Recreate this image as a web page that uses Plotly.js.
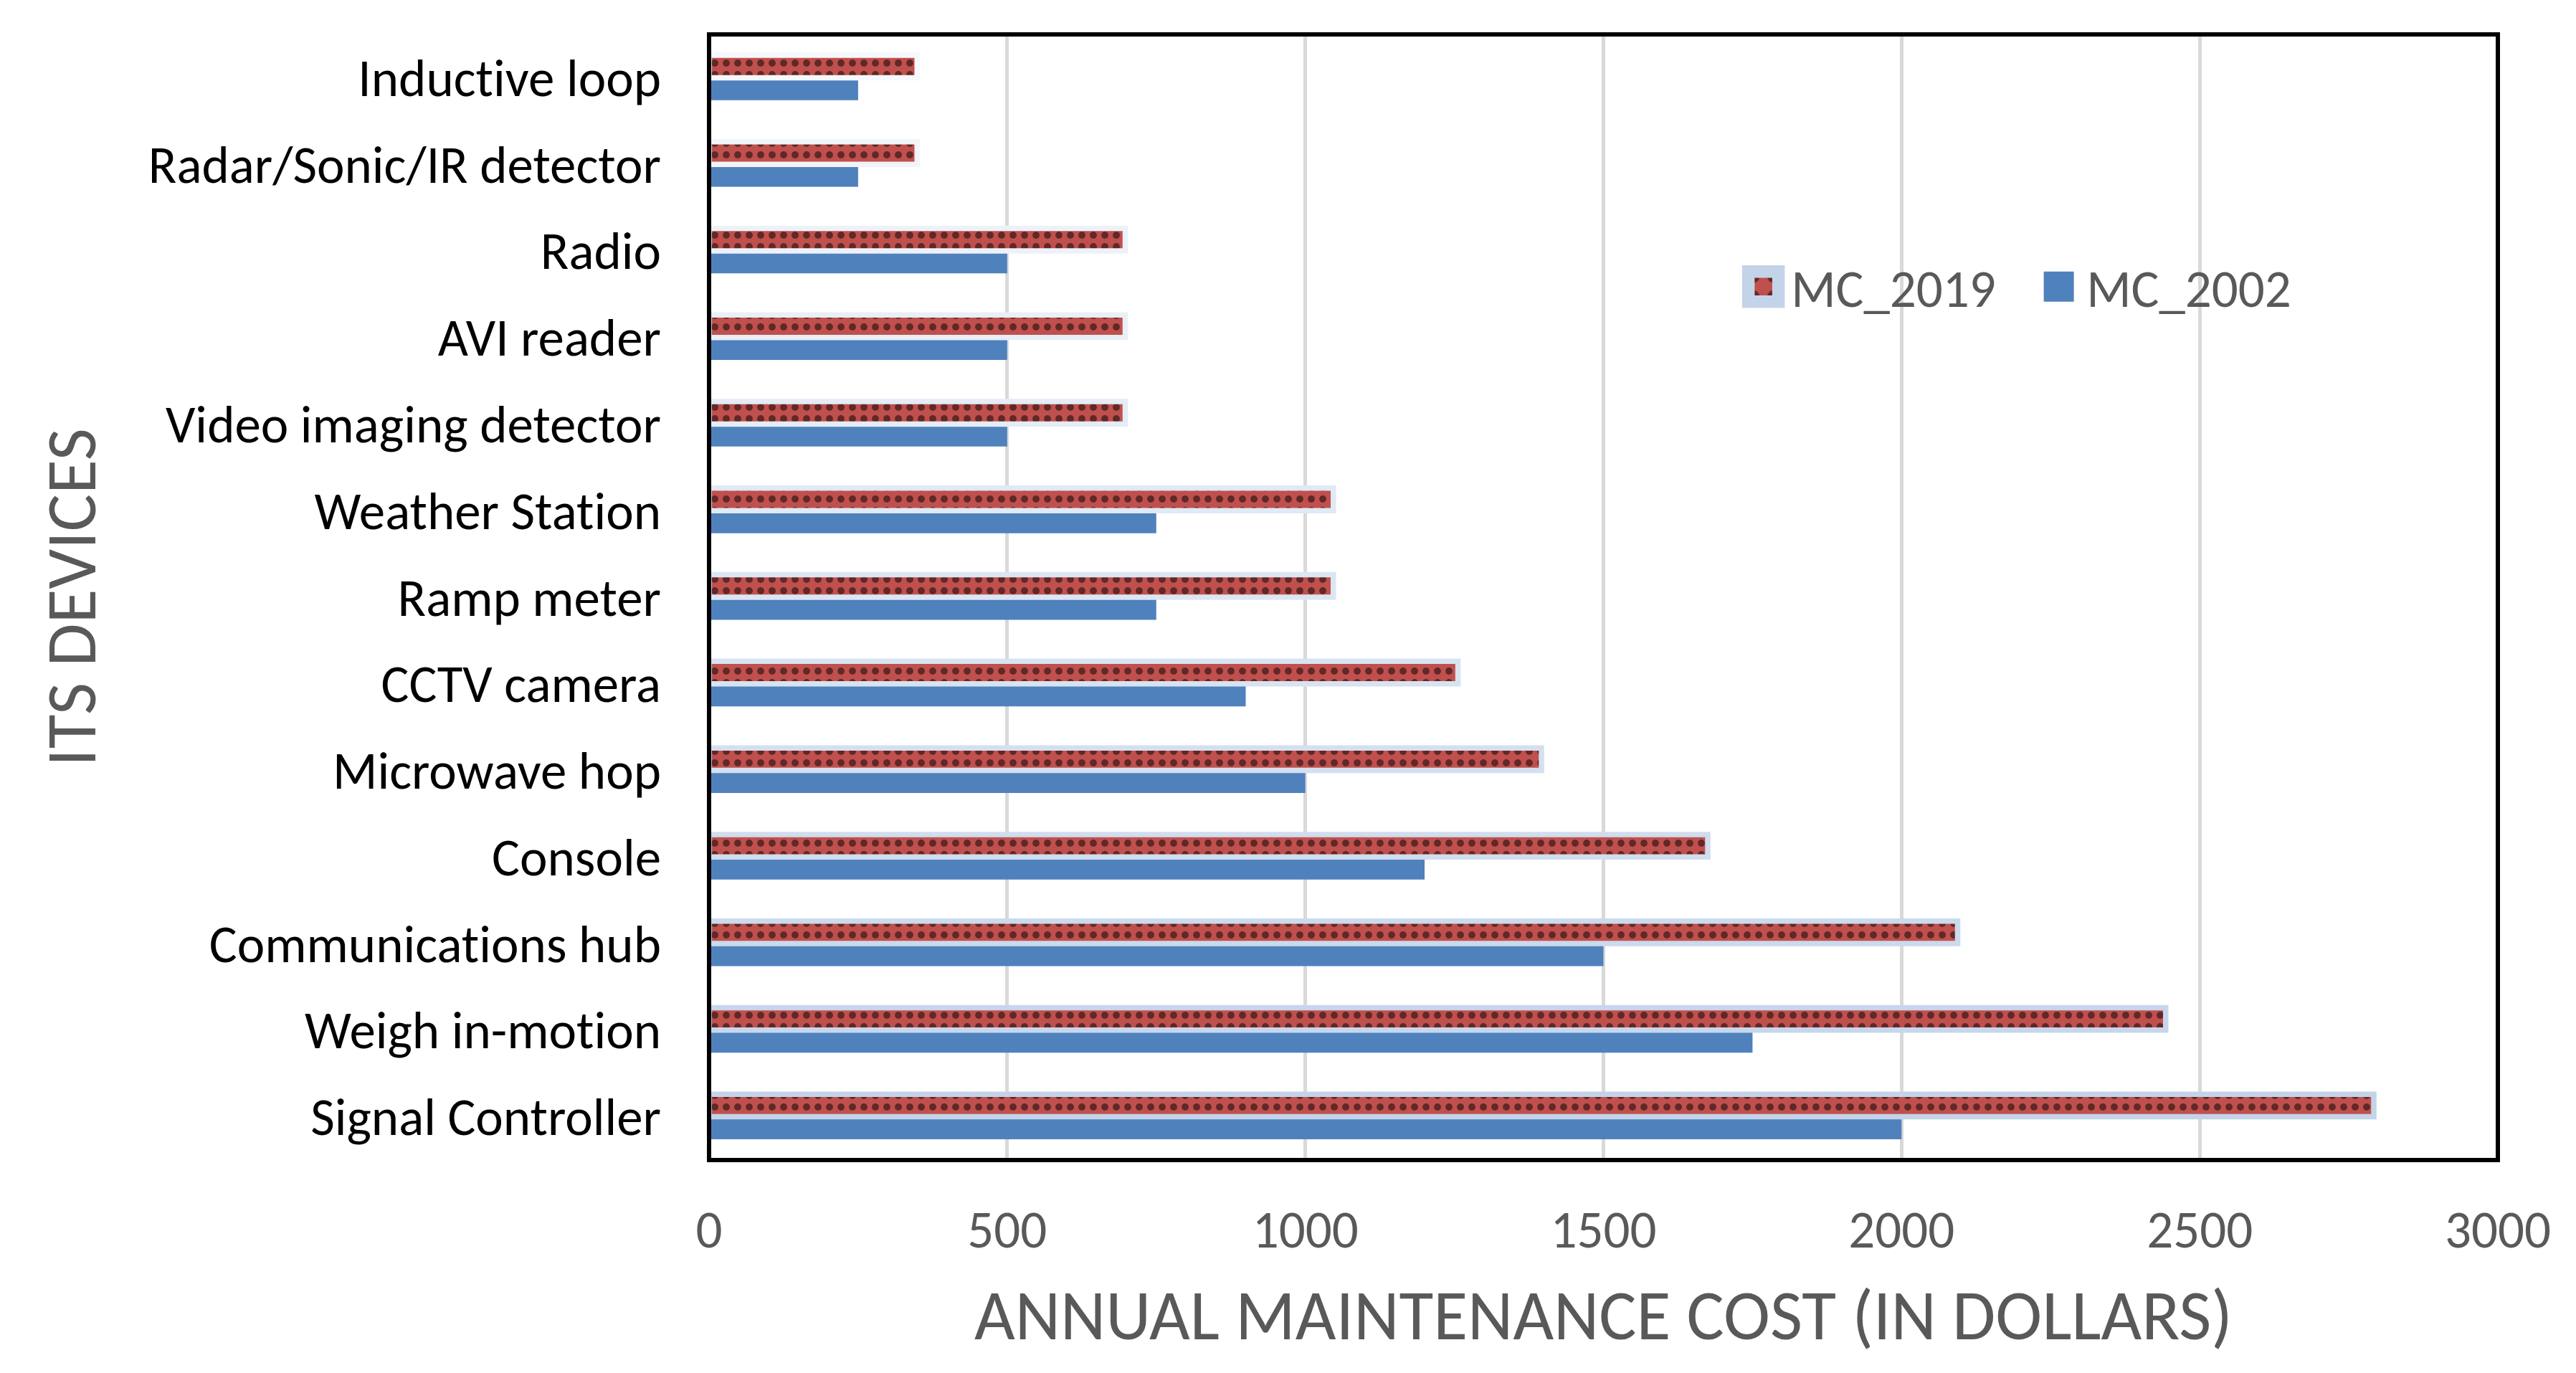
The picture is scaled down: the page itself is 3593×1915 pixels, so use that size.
<!DOCTYPE html>
<html>
<head>
<meta charset="utf-8">
<script src="https://cdn.plot.ly/plotly-3.0.1.min.js"></script>
<style>
  html, body { margin: 0; padding: 0; background: #ffffff; }
  #chart { width: 3593px; height: 1915px; }
  #chart text { font-variant-ligatures: none; font-feature-settings: "liga" 0, "clig" 0; }
</style>
</head>
<body>
<div id="chart"></div>
<script>
// Categories listed bottom-to-top (Plotly category axis grows upward)
const categories = [
  'Signal Controller',
  'Weigh in-motion',
  'Communications hub',
  'Console',
  'Microwave hop',
  'CCTV camera',
  'Ramp meter',
  'Weather Station',
  'Video imaging detector',
  'AVI reader',
  'Radio',
  'Radar/Sonic/IR detector',
  'Inductive loop'
];
const mc2002 = [2000, 1750, 1500, 1200, 1000, 900, 750, 750, 500, 500, 500, 250, 250];
const mc2019 = [2792, 2443, 2094, 1675, 1396, 1256, 1047, 1047, 698, 698, 698, 349, 349];
const seriesNames = ['MC_2002', 'MC_2019'];
const xTickValues = [0, 500, 1000, 1500, 2000, 2500, 3000];

const FONT = "Carlito, 'Liberation Sans Narrow', Lato, sans-serif";

// light-blue outline that fades toward the top of the chart
function outlineColor(i, n) {
  const t = i / (n - 1);           // 0 bottom -> 1 top
  const a = [0xC3, 0xD4, 0xE9], b = [0xF5, 0xF8, 0xFC];
  const c = a.map((v, k) => Math.round(v + (b[k] - v) * t));
  return 'rgb(' + c.join(',') + ')';
}
const outlineColors = categories.map((_, i) => outlineColor(i, categories.length));

const slot = 0.26;

const traces = [
  {
    type: 'bar',
    orientation: 'h',
    name: seriesNames[0],
    y: categories,
    x: mc2002,
    offset: -slot,
    width: slot,
    marker: { color: '#4F81BD', line: { width: 0 } },
    hoverinfo: 'x+name'
  },
  {
    type: 'bar',
    orientation: 'h',
    name: seriesNames[1],
    y: categories,
    x: mc2019,
    offset: 0,
    width: slot,
    marker: {
      color: '#C0504D',
      line: { width: 7.5, color: outlineColors },
      pattern: {
        shape: '.',
        bgcolor: '#C0504D',
        fgcolor: '#000000',
        fillmode: 'overlay',
        size: 16,
        solidity: 0.3
      }
    },
    hoverinfo: 'x+name'
  }
];

const layout = {
  width: 3593,
  height: 1915,
  paper_bgcolor: '#ffffff',
  plot_bgcolor: '#ffffff',
  margin: { l: 989, r: 109, t: 48, b: 297, pad: 0 },
  barmode: 'overlay',
  font: { family: FONT, color: '#595959', size: 73 },
  showlegend: true,
  legend: {
    orientation: 'h',
    traceorder: 'reversed',
    x: 0.574,
    xanchor: 'left',
    y: 0.776,
    yanchor: 'middle',
    itemwidth: 67,
    entrywidth: 330,
    entrywidthmode: 'pixels',
    bgcolor: 'rgba(0,0,0,0)',
    font: { family: FONT, size: 73, color: '#595959' }
  },
  xaxis: {
    range: [0, 3000],
    tickvals: xTickValues,
    ticktext: xTickValues.map(String),
    showgrid: true,
    gridcolor: '#D9D9D9',
    gridwidth: 5,
    zeroline: false,
    showline: false,
    ticks: '',
    ticklabelstandoff: 48,
    tickfont: { family: FONT, size: 73, color: '#595959' },
    title: {
      text: 'ANNUAL MAINTENANCE COST (IN DOLLARS)',
      font: { family: FONT, size: 98, color: '#595959' },
      standoff: 40
    },
    automargin: false
  },
  yaxis: {
    type: 'category',
    categoryorder: 'array',
    categoryarray: categories,
    range: [-0.5, categories.length - 0.5],
    showgrid: false,
    zeroline: false,
    showline: false,
    ticks: '',
    ticklabelstandoff: 66,
    tickfont: { family: FONT, size: 73, color: '#000000' },
    title: {
      text: 'ITS DEVICES',
      font: { family: FONT, size: 98, color: '#595959' },
      standoff: 40
    },
    automargin: false
  },
  shapes: [
    {
      type: 'rect',
      xref: 'paper', yref: 'paper',
      x0: 0, x1: 1, y0: 0, y1: 1,
      line: { color: '#000000', width: 6 },
      fillcolor: 'rgba(0,0,0,0)',
      layer: 'above'
    }
  ]
};

Plotly.newPlot('chart', traces, layout, { displayModeBar: false, staticPlot: true }).then(function (gd) {
  // enlarge the legend swatches to the size used in the original chart
  gd.querySelectorAll('.legend .legendpoints path').forEach(function (p) {
    const t = p.getAttribute('transform') || '';
    p.setAttribute('transform', t + ' scale(3.5)');
  });
});
</script>
</body>
</html>
